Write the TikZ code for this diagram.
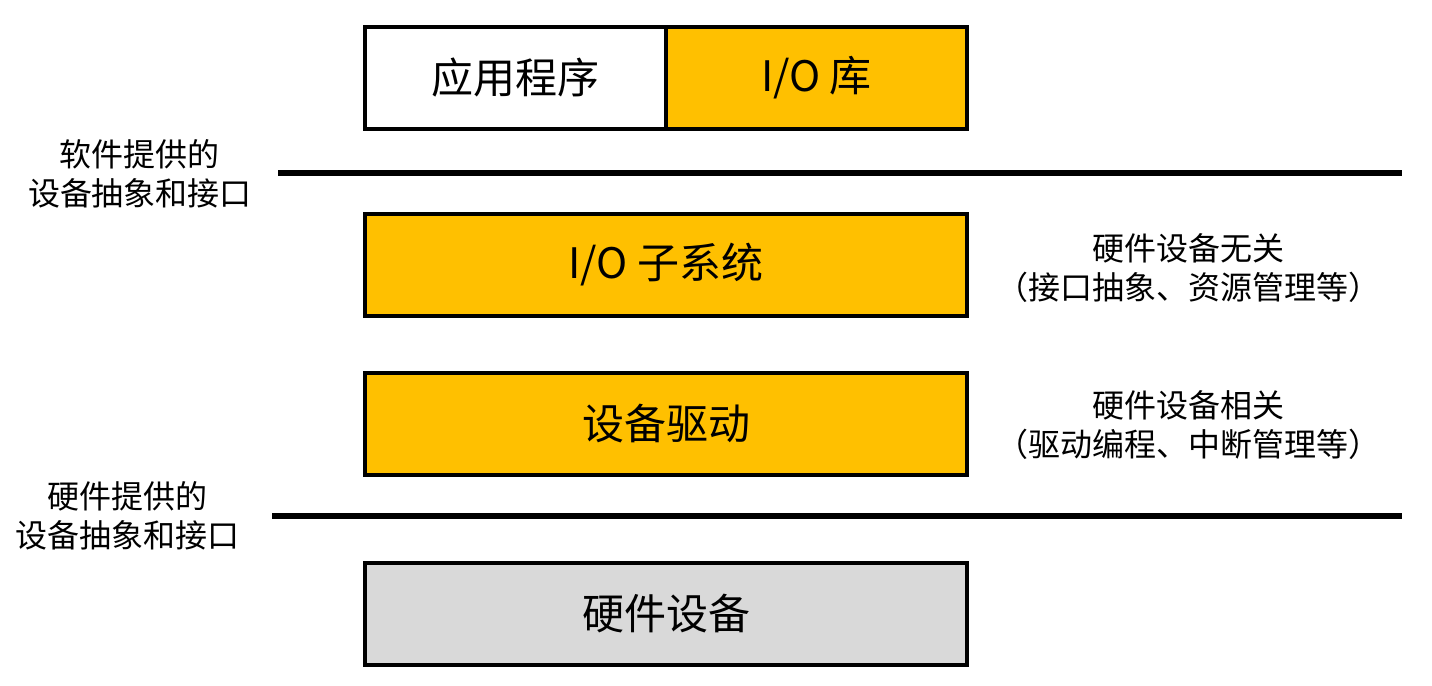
\documentclass[tikz,border=0pt]{standalone}
\usepackage{fontspec}
\setmainfont{Noto Sans CJK SC}
\definecolor{layergold}{HTML}{FFC000}
\definecolor{layergray}{HTML}{D9D9D9}
\begin{document}
\begin{tikzpicture}[x=0.5pt,y=-0.5pt,
  layer/.style={draw=black, line width=2pt, rectangle, inner sep=0pt,
    minimum height=51pt, font=\fontsize{21}{25}\selectfont},
  wide/.style={layer, minimum width=301pt},
  half/.style={layer, minimum width=150.5pt},
  sep/.style={line width=2.6pt},
  note/.style={align=center, font=\fontsize{16}{19.5}\selectfont, inner sep=0pt}]
\useasboundingbox (0,0) rectangle (1432,686);
% top row: application and I/O library
\node[half, fill=white] (app) at (515.5,78) {应用程序};
\node[half, fill=layergold] (iolib) at (816.5,78) {I/O 库};
% kernel layers
\node[wide, fill=layergold] (iosub) at (666,265) {I/O 子系统};
\node[wide, fill=layergold] (driver) at (666,424) {设备驱动};
% hardware
\node[wide, fill=layergray] (hw) at (666,614) {硬件设备};
% boundary lines
\coordinate (s1a) at (278,173);
\coordinate (s1b) at (1402,173);
\coordinate (s2a) at (272,516);
\coordinate (s2b) at (1402,516);
\draw[sep] (s1a) -- (s1b);
\draw[sep] (s2a) -- (s2b);
% side notes
\node[note] (swif) at (140,174) {软件提供的\\设备抽象和接口};
\node[note] (hwif) at (128,516) {硬件提供的\\设备抽象和接口};
\node[note] (indep) at (1188,268) {硬件设备无关\\（接口抽象、资源管理等）};
\node[note] (dep) at (1188,425) {硬件设备相关\\（驱动编程、中断管理等）};
\end{tikzpicture}
\end{document}
